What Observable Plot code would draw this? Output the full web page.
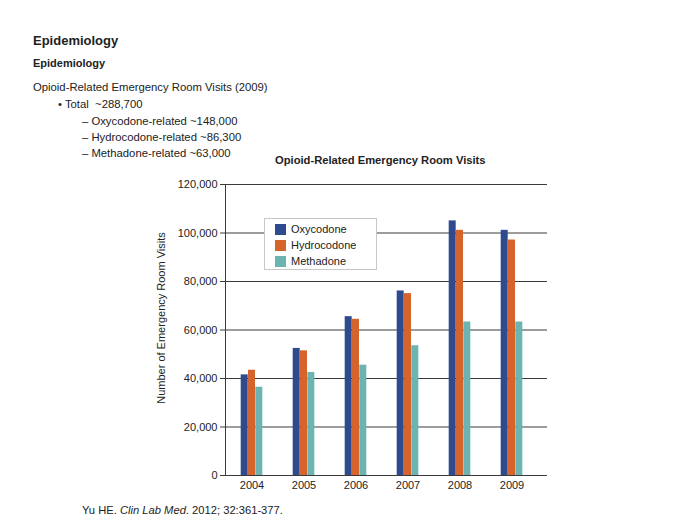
<!DOCTYPE html>
<html><head><meta charset="utf-8">
<script src="https://cdn.jsdelivr.net/npm/d3@7"></script>
<script src="https://cdn.jsdelivr.net/npm/@observablehq/plot@0.6"></script>
<style>
body{margin:0;background:#fff;font-family:"Liberation Sans",Arial,sans-serif;color:#222;}
#wrap{position:relative;width:700px;height:526px;overflow:hidden;}
.t{position:absolute;white-space:nowrap;line-height:1;}
#legend{position:absolute;left:264px;top:218px;width:113px;height:52px;border:1px solid #c8c8c8;box-sizing:border-box;background:#fff;font-size:11px;}
.li{position:absolute;left:10px;display:flex;align-items:center;line-height:1;}
.sw{width:11px;height:11px;margin-right:5px;}
</style></head>
<body><div id="wrap">
<div class="t" style="left:33px;top:34px;font-size:13px;font-weight:bold;">Epidemiology</div>
<div class="t" style="left:33px;top:58px;font-size:11px;font-weight:bold;">Epidemiology</div>
<div class="t" style="left:33px;top:82px;font-size:11.3px;">Opioid-Related Emergency Room Visits (2009)</div>
<div class="t" style="left:58px;top:99px;font-size:11.3px;">• Total&nbsp; ~288,700</div>
<div class="t" style="left:82px;top:116px;font-size:11.3px;">– Oxycodone-related ~148,000</div>
<div class="t" style="left:82px;top:132px;font-size:11.3px;">– Hydrocodone-related ~86,300</div>
<div class="t" style="left:82px;top:148px;font-size:11.3px;">– Methadone-related ~63,000</div>
<div class="t" style="left:275px;top:155px;font-size:11.2px;font-weight:bold;">Opioid-Related Emergency Room Visits</div>
<div class="t" style="left:82px;top:505px;font-size:11.2px;">Yu HE. <i>Clin Lab Med</i>. 2012; 32:361-377.</div>
<div id="chart" style="position:absolute;left:0;top:170px;"></div>
<div id="legend"></div>
</div>
<script>
const years = ["2004","2005","2006","2007","2008","2009"];
const series = ["Oxycodone","Hydrocodone","Methadone"];
const colors = ["#2f4b8f","#d4632c","#6cb4b2"];
const oxycodone   = [41500, 52400, 65500, 76100, 105000, 101100];
const hydrocodone = [43400, 51400, 64400, 75000, 101100, 97100];
const methadone   = [36400, 42500, 45500, 53500, 63300, 63300];
const yTicks = [0, 20000, 40000, 60000, 80000, 100000, 120000];

const values = [oxycodone, hydrocodone, methadone];
const data = [];
series.forEach((s, si) => years.forEach((y, yi) => data.push({year: y, series: s, value: values[si][yi]})));

const bw = 7.3;
const offsets = {Oxycodone: -bw, Hydrocodone: 0, Methadone: bw};

const marks = [
  Plot.ruleY(yTicks, {stroke: "#3a3a3a", strokeWidth: 1}),
  ...series.map((s, i) => Plot.barY(data.filter(d => d.series === s), {
    x: "year", y: "value", fill: colors[i], dx: offsets[s]
  })),
  Plot.axisY({ticks: yTicks, tickSize: 5, tickPadding: 3, tickFormat: d3.format(","), fontSize: 11, label: null, stroke: "#3a3a3a"}),
  Plot.axisX({tickSize: 0, tickPadding: 6, fontSize: 11, label: null}),
];
try { marks.push(Plot.frame({anchor: "left", stroke: "#3a3a3a"})); } catch(e) {}

const chart = Plot.plot({
  width: 700, height: 340,
  marginLeft: 225, marginRight: 153, marginTop: 14, marginBottom: 35,
  style: {fontFamily: "Liberation Sans, Arial, sans-serif", fontSize: "11px", color: "#222", background: "transparent"},
  x: {domain: years, paddingInner: 0.86, paddingOuter: 0.5, align: 0.424},
  y: {domain: [0, 120000]},
  marks
});
document.getElementById("chart").appendChild(chart);

// y label
const yl = document.createElement("div");
yl.className = "t";
yl.textContent = "Number of Emergency Room Visits";
yl.style.cssText = "left:161px;top:318px;font-size:11px;transform:translate(-50%,-50%) rotate(-90deg);";
document.getElementById("wrap").appendChild(yl);

const lg = document.getElementById("legend");
series.forEach((s, i) => {
  const row = document.createElement("div");
  row.className = "li";
  row.style.top = (5 + i * 16) + "px";
  row.innerHTML = `<span class="sw" style="background:${colors[i]}"></span><span>${s}</span>`;
  lg.appendChild(row);
});
</script>
</body></html>
